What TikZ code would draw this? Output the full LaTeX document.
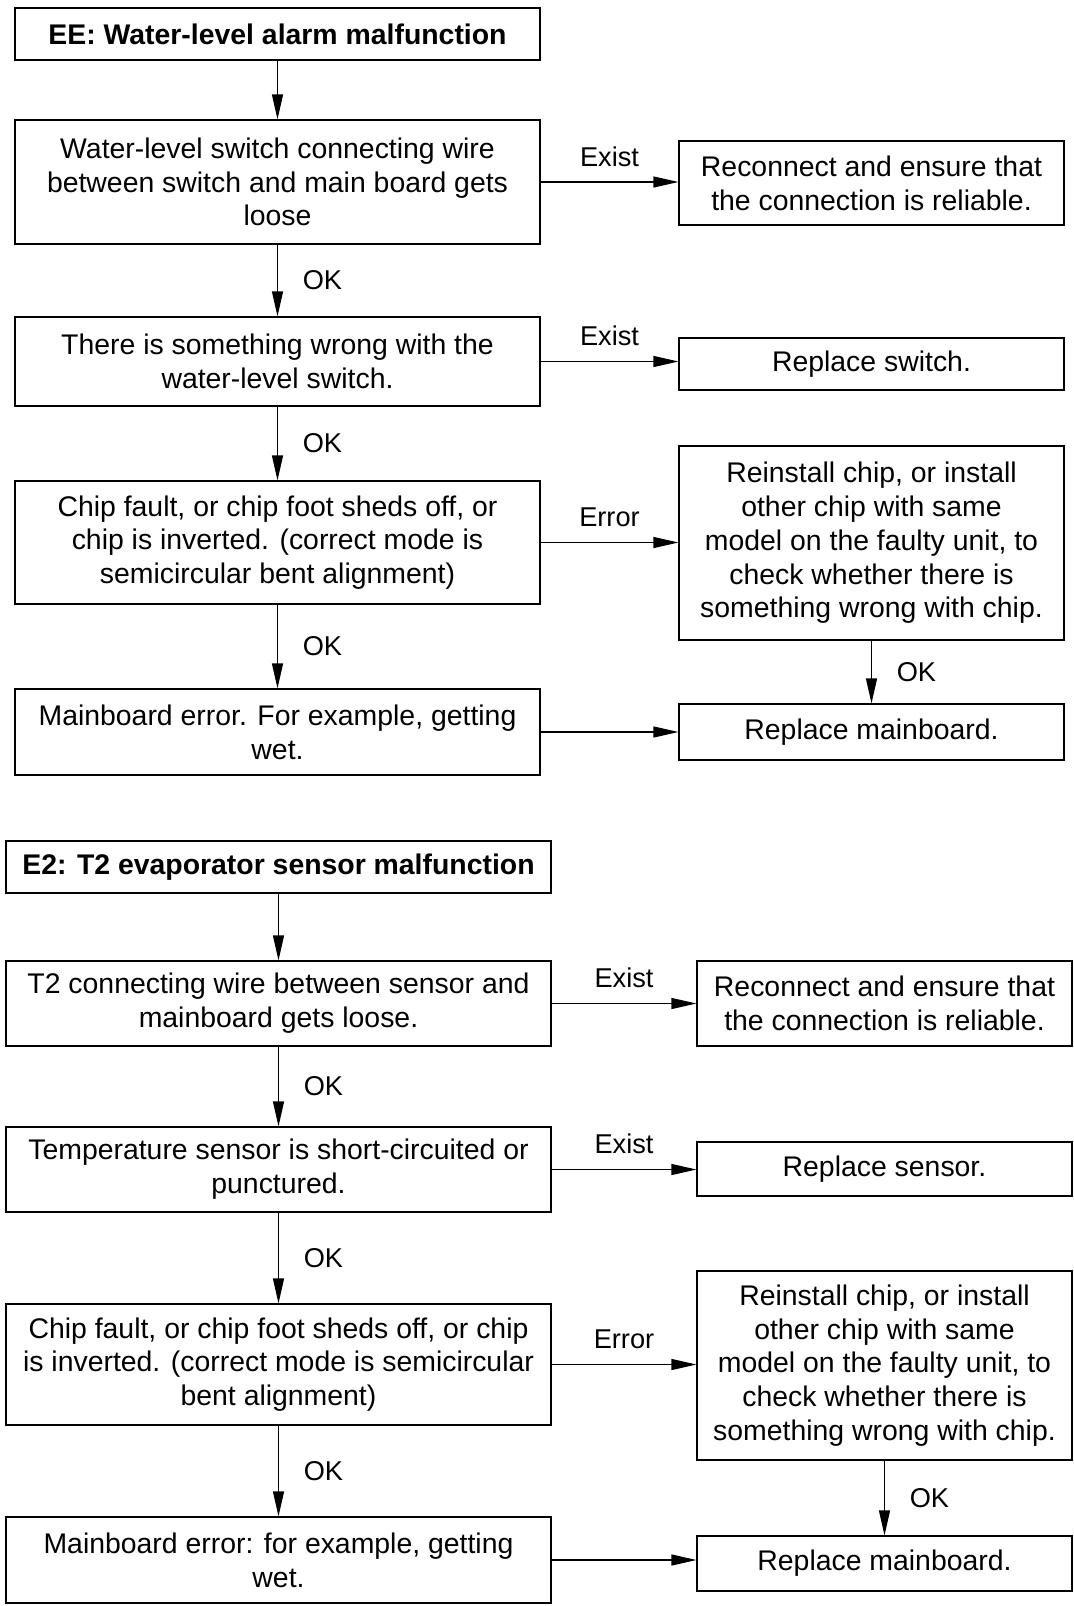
\documentclass[tikz,border=0pt]{standalone}
\usepackage{fontspec}
\setmainfont{Liberation Sans}
\usetikzlibrary{arrows.meta,positioning}

\begin{document}
\begin{tikzpicture}[x=0.5pt, y=-0.5pt,
    box/.style={draw, line width=0.6pt, align=center, inner sep=2pt,
      font=\fontsize{14.2pt}{16.9pt}\selectfont},
    hd/.style={box, font=\fontsize{14.2pt}{16.9pt}\selectfont\bfseries},
    lab/.style={font=\fontsize{13.6pt}{15pt}\selectfont},
    arr/.style={line width=0.6pt, -{Triangle[length=12.5pt, width=5.5pt]}}]
    \useasboundingbox (0,0) rectangle (1073,1606);

    % EE chart
    \node [hd, minimum width=262.5pt, minimum height=26pt](ee) at (277.5,34) {EE: Water-level alarm malfunction};
    \node [box, minimum width=262.5pt, minimum height=62pt](a1) at (277.5,182) {Water-level switch connecting wire\\between switch and main board gets\\loose};
    \node [box, minimum width=262.5pt, minimum height=44.5pt](a2) at (277.5,361.5) {There is something wrong with the\\water-level switch.};
    \node [box, minimum width=262.5pt, minimum height=61.5pt](a3) at (277.5,542.5) {Chip fault, or chip foot sheds off, or\\chip is inverted. (correct mode is\\semicircular bent alignment)};
    \node [box, minimum width=262.5pt, minimum height=43pt](a4) at (277.5,732) {Mainboard error. For example, getting\\wet.};

    \node [box, minimum width=192.5pt, minimum height=42pt](r1) at (871.5,183) {Reconnect and ensure that\\the connection is reliable.};
    \node [box, minimum width=192.5pt, minimum height=26pt](r2) at (871.5,364) {Replace switch.};
    \node [box, minimum width=192.5pt, minimum height=97pt](r3) at (871.5,543) {Reinstall chip, or install\\other chip with same\\model on the faulty unit, to\\check whether there is\\something wrong with chip.};
    \node [box, minimum width=192.5pt, minimum height=28pt](r4) at (871.5,732) {Replace mainboard.};

    \draw[arr] (ee) -- (a1);
    \draw[arr] (a1) -- node[lab, right=9pt] {OK} (a2);
    \draw[arr] (a2) -- node[lab, right=9pt] {OK} (a3);
    \draw[arr] (a3) -- node[lab, right=9pt] {OK} (a4);
    \draw[arr] (r3) -- node[lab, right=9pt] {OK} (r4);
    \draw[arr] (a1.east) -- node[lab, above=4pt] {Exist} (a1.east -| r1.west);
    \draw[arr] (a2.east) -- node[lab, above=4pt] {Exist} (a2.east -| r2.west);
    \draw[arr] (a3.east) -- node[lab, above=4pt] {Error} (a3.east -| r3.west);
    \draw[arr] (a4.east) -- (a4.east -| r4.west);

    % E2 chart
    \node [hd, minimum width=272.5pt, minimum height=26pt](etwo) at (278.5,867) {E2: T2 evaporator sensor malfunction};
    \node [box, minimum width=272.5pt, minimum height=42.5pt](b1) at (278.5,1003.5) {T2 connecting wire between sensor and\\mainboard gets loose.};
    \node [box, minimum width=272.5pt, minimum height=42.5pt](b2) at (278.5,1169.5) {Temperature sensor is short-circuited or\\punctured.};
    \node [box, minimum width=272.5pt, minimum height=60.5pt](b3) at (278.5,1364.5) {Chip fault, or chip foot sheds off, or chip\\is inverted. (correct mode is semicircular\\bent alignment)};
    \node [box, minimum width=272.5pt, minimum height=43pt](b4) at (278.5,1560) {Mainboard error: for example, getting\\wet.};

    \node [box, minimum width=187.5pt, minimum height=42.5pt](s1) at (884.5,1003.5) {Reconnect and ensure that\\the connection is reliable.};
    \node [box, minimum width=187.5pt, minimum height=27pt](s2) at (884.5,1169) {Replace sensor.};
    \node [box, minimum width=187.5pt, minimum height=94.5pt](s3) at (884.5,1365.5) {Reinstall chip, or install\\other chip with same\\model on the faulty unit, to\\check whether there is\\something wrong with chip.};
    \node [box, minimum width=187.5pt, minimum height=27.5pt](s4) at (884.5,1563.5) {Replace mainboard.};

    \draw[arr] (etwo) -- (b1);
    \draw[arr] (b1) -- node[lab, right=9pt] {OK} (b2);
    \draw[arr] (b2) -- node[lab, right=9pt] {OK} (b3);
    \draw[arr] (b3) -- node[lab, right=9pt] {OK} (b4);
    \draw[arr] (s3) -- node[lab, right=9pt] {OK} (s4);
    \draw[arr] (b1.east) -- node[lab, above=4pt] {Exist} (b1.east -| s1.west);
    \draw[arr] (b2.east) -- node[lab, above=4pt] {Exist} (b2.east -| s2.west);
    \draw[arr] (b3.east) -- node[lab, above=4pt] {Error} (b3.east -| s3.west);
    \draw[arr] (b4.east) -- (b4.east -| s4.west);
\end{tikzpicture}
\end{document}
